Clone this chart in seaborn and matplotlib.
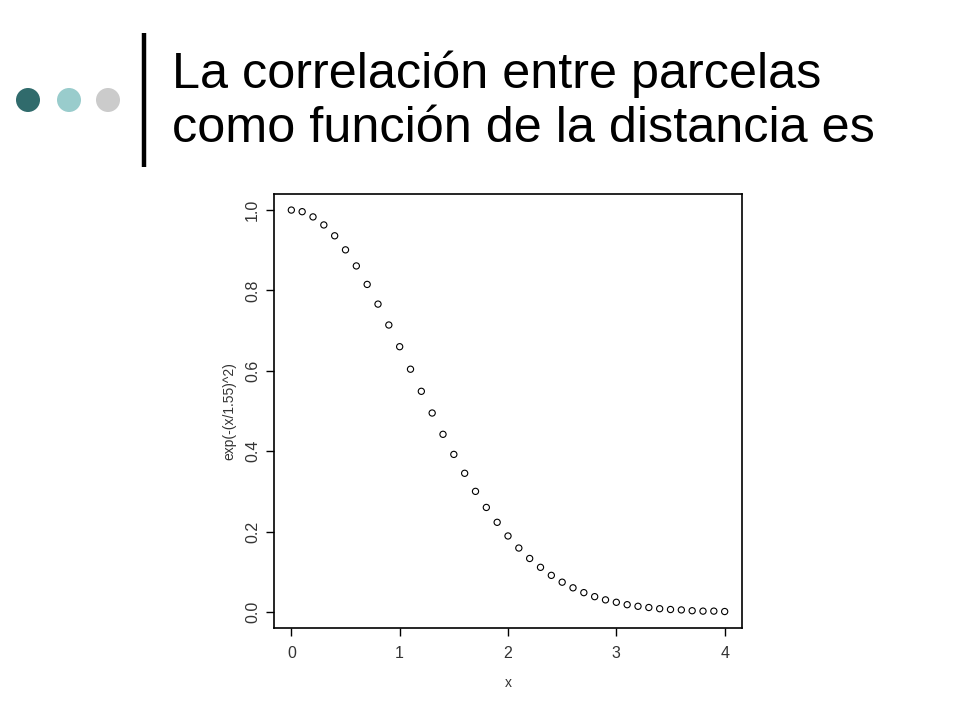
import matplotlib
matplotlib.use("Agg")
import matplotlib.pyplot as plt
import seaborn as sns
from matplotlib.patches import Circle

# valores: x y exp(-(x/1.55)^2)
x_vals = [0.0, 0.1, 0.2, 0.3, 0.4, 0.5, 0.6, 0.7, 0.8, 0.9,
          1.0, 1.1, 1.2, 1.3, 1.4, 1.5, 1.6, 1.7, 1.8, 1.9,
          2.0, 2.1, 2.2, 2.3, 2.4, 2.5, 2.6, 2.7, 2.8, 2.9,
          3.0, 3.1, 3.2, 3.3, 3.4, 3.5, 3.6, 3.7, 3.8, 3.9, 4.0]
y_vals = [1.000, 0.996, 0.983, 0.963, 0.936, 0.901, 0.861, 0.815, 0.766, 0.714,
          0.660, 0.604, 0.549, 0.495, 0.442, 0.392, 0.345, 0.300, 0.260, 0.223,
          0.189, 0.159, 0.133, 0.111, 0.091, 0.074, 0.060, 0.048, 0.038, 0.030,
          0.024, 0.018, 0.014, 0.011, 0.008, 0.006, 0.005, 0.003, 0.002, 0.002, 0.001]
x_ticks = [0, 1, 2, 3, 4]
y_ticks = [0.0, 0.2, 0.4, 0.6, 0.8, 1.0]

titulo = ["La correlación entre parcelas", "como función de la distancia es"]

sns.set_style("white")
plt.rcParams['font.family'] = ['Liberation Sans', 'DejaVu Sans']

fig = plt.figure(figsize=(9.6, 7.2), dpi=100)

# decoracion de la diapositiva
deco = fig.add_axes([0, 0, 1, 1])
deco.set_xlim(0, 960)
deco.set_ylim(720, 0)
deco.axis("off")
for cx, col in zip([28, 69, 108], ["#306b6c", "#99cccc", "#cbcbcb"]):
    deco.add_patch(Circle((cx, 100), 12, color=col, lw=0))
deco.plot([144, 144], [33, 167], color="black", lw=3.2, solid_capstyle="butt")
deco.text(172, 88, titulo[0], fontsize=36.3, color="black", va="baseline", ha="left")
deco.text(172, 142, titulo[1], fontsize=36.3, color="black", va="baseline", ha="left")

# grafico
ax = fig.add_axes([274 / 960, 1 - 628 / 720, 468 / 960, 434 / 720])
sns.scatterplot(x=x_vals, y=y_vals, ax=ax, marker="o", s=20,
                facecolor="none", edgecolor="black", linewidth=0.8)
ax.set_xlim(-0.16, 4.16)
ax.set_ylim(-0.04, 1.04)
ax.set_xticks(x_ticks)
ax.set_xticklabels([str(t) for t in x_ticks])
ax.set_yticks(y_ticks)
ax.set_yticklabels([f"{t:.1f}" for t in y_ticks], rotation=90, va="center")
ax.tick_params(axis="both", direction="out", length=6, width=1, color="black",
               labelsize=11.5, labelcolor="#333333", left=True, bottom=True)
ax.tick_params(axis="x", pad=7)
ax.tick_params(axis="y", pad=4)
for sp in ax.spines.values():
    sp.set_visible(True)
    sp.set_color("black")
    sp.set_linewidth(1.2)
ax.set_xlabel("x", fontsize=10, color="#333333", labelpad=11)
ax.set_ylabel("exp(-(x/1.55)^2)", fontsize=10, color="#333333", labelpad=6)

fig.savefig("out.png", dpi=100)
